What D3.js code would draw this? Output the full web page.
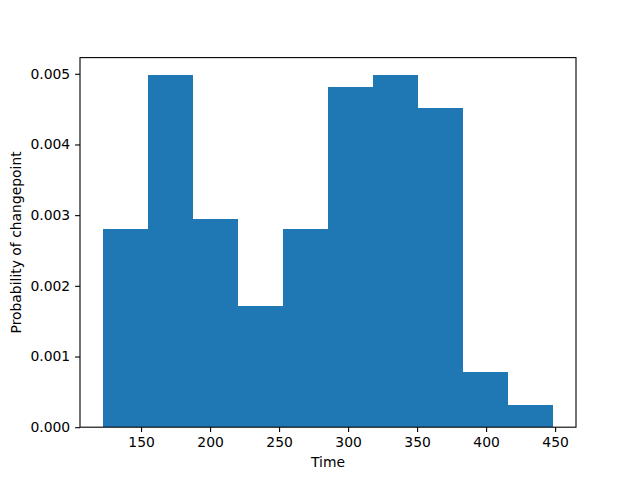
<!DOCTYPE html>
<html lang="en">
<head>
    <meta charset="UTF-8">
    <title>Changepoint histogram</title>
    <style>
        body { margin: 0; background: white; }
        text { font-family: "DejaVu Sans", sans-serif; font-size: 13.9px; fill: black; }
        .axis path, .axis line { stroke: black; stroke-width: 1.1; }
        .bar { shape-rendering: crispEdges; }
    </style>
</head>
<body>
    <svg width="640" height="480"></svg>
    <script src="https://cdn.jsdelivr.net/npm/d3@7"></script>
    <script>
        // histogram bin edges (Time) and density per bin
        const binEdges = [122.1, 154.8, 187.4, 220.1, 252.8, 285.4, 318.1, 350.8, 383.5, 416.1, 448.8];
        const density = [0.00280, 0.00498, 0.00295, 0.00172, 0.00280, 0.00482, 0.00498, 0.00451, 0.00078, 0.00031];
        const xTicks = [150, 200, 250, 300, 350, 400, 450];
        const yTicks = [0, 0.001, 0.002, 0.003, 0.004, 0.005];

        const svg = d3.select("svg");
        const plotLeft = 80, plotRight = 576, plotTop = 57.6, plotBottom = 427.2;

        const lo = binEdges[0], hi = binEdges[binEdges.length - 1];
        const pad = (hi - lo) * 0.05;
        const x = d3.scaleLinear().domain([lo - pad, hi + pad]).range([plotLeft, plotRight]);
        const y = d3.scaleLinear().domain([0, d3.max(density) * 1.05]).range([plotBottom, plotTop]);

        const bins = density.map((v, i) => ({ x0: binEdges[i], x1: binEdges[i + 1], v: v }));

        svg.append("g").selectAll("rect")
            .data(bins)
            .enter()
            .append("rect")
            .attr("class", "bar")
            .attr("x", d => Math.round(x(d.x0)))
            .attr("width", d => Math.round(x(d.x1)) - Math.round(x(d.x0)))
            .attr("y", d => Math.round(y(d.v)))
            .attr("height", d => Math.round(y(0)) - Math.round(y(d.v)))
            .attr("fill", "#1f77b4");

        const xAxis = svg.append("g")
            .attr("class", "axis")
            .attr("transform", `translate(0,${plotBottom})`)
            .call(d3.axisBottom(x).tickValues(xTicks).tickSize(4.9).tickPadding(4.9).tickSizeOuter(0));
        xAxis.select(".domain").remove();
        xAxis.selectAll("text").attr("dy", "0.71em");

        const yAxis = svg.append("g")
            .attr("class", "axis")
            .attr("transform", `translate(${plotLeft},0)`)
            .call(d3.axisLeft(y).tickValues(yTicks).tickFormat(d3.format(".3f")).tickSize(4.9).tickPadding(4.9).tickSizeOuter(0));
        yAxis.select(".domain").remove();

        svg.selectAll(".axis text").style("font-family", "DejaVu Sans").style("font-size", "13.9px").attr("fill", "black");

        // frame
        svg.append("rect")
            .attr("x", plotLeft).attr("y", plotTop)
            .attr("width", plotRight - plotLeft).attr("height", plotBottom - plotTop)
            .attr("fill", "none").attr("stroke", "black").attr("stroke-width", 1.1);

        svg.append("text")
            .attr("x", (plotLeft + plotRight) / 2)
            .attr("y", 467)
            .attr("text-anchor", "middle")
            .text("Time");

        svg.append("text")
            .attr("transform", `translate(21,${(plotTop + plotBottom) / 2}) rotate(-90)`)
            .attr("text-anchor", "middle")
            .text("Probability of changepoint");
    </script>
</body>
</html>
